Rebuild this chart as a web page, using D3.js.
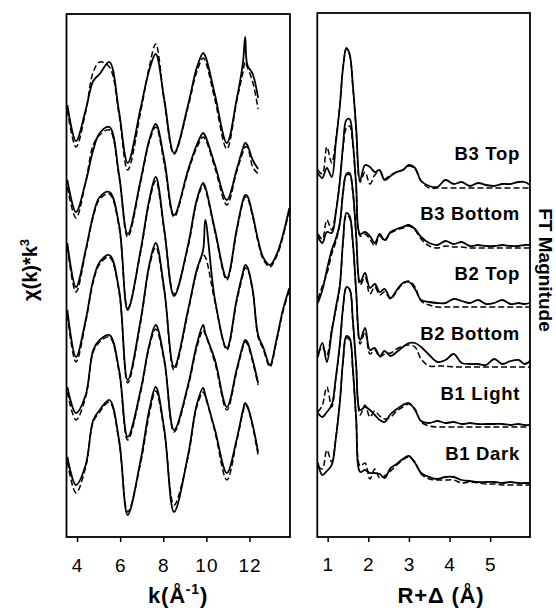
<!DOCTYPE html>
<html><head><meta charset="utf-8">
<script src="https://cdn.jsdelivr.net/npm/d3@7"></script>
<style>body{margin:0;background:#fff}</style>
</head><body>
<svg id="chart" width="556" height="608"></svg>
<script>
// ---------- EXAFS (left panel) ----------
const kGrid = [3.55, 3.95, 4.4, 4.75, 5.05, 5.5, 5.95, 6.35, 6.95, 7.35, 7.65, 8.05, 8.5, 9.15, 9.55, 9.85, 9.95, 10.4, 10.95, 11.4, 11.7, 11.8, 11.9, 12.15, 12.4];
const kGridExt = [12.65, 12.95, 13.25, 13.55, 13.85];
const kTicks = [4, 6, 8, 10, 12];
const sampleNames = ["B3 Top", "B3 Bottom", "B2 Top", "B2 Bottom", "B1 Light", "B1 Dark"];
const exafsOffsets = [68, 54, 40, 27, 13.5, 0];

const chiB3Top      = [0.4, -6.8, -0.6, 5.2, 6.6, 9.0, -1.0, -11.2, -0.2, 7.4, 10.6, 1.4, -9.2, 0.4, 7.8, 10.8, 10.2, 2.4, -7.2, 1.4, 9.0, 14.0, 8.4, 6.6, 1.8];
const chiB3TopFit   = [-0.6, -8.0, -1.0, 7.0, 9.0, 8.0, -1.6, -12.6, -1.0, 8.0, 12.6, 1.0, -9.4, 0.0, 7.0, 9.8, 9.2, 1.4, -8.4, 1.0, 7.0, 9.0, 8.0, 5.0, -0.4];
const chiB3Bot      = [-0.6, -7.0, -1.0, 5.4, 8.8, 10.0, 0.4, -11.4, -0.6, 7.4, 10.6, 3.4, -7.6, 1.4, 6.4, 8.8, 8.2, 2.4, -4.6, 1.4, 5.8, 6.8, 6.4, 3.4, 1.6];
const chiB3BotFit   = [-2.0, -8.2, -1.0, 6.4, 8.4, 9.4, 0.0, -12.0, -1.0, 7.0, 10.0, 2.6, -8.0, 1.0, 5.8, 8.0, 7.6, 1.8, -5.6, 1.0, 5.0, 6.0, 6.0, 2.0, 0.6];
const chiB2Top      = [0.8, -8.0, -0.6, 6.4, 10.0, 11.0, 4.4, -12.6, -0.6, 9.4, 14.0, 3.4, -9.8, 0.4, 9.4, 12.8, 12.0, 3.4, -6.2, 3.4, 9.4, 10.4, 10.2, 6.4, 1.4, -2.2, -3.6, -1.6, 2.4, 7.8];
const chiB2TopFit   = [0.0, -9.0, -1.0, 6.0, 9.6, 10.6, 4.0, -12.2, -1.0, 9.0, 13.2, 3.0, -9.4, 0.0, 9.0, 12.4, 11.6, 3.0, -6.6, 3.0, 9.0, 10.0, 9.8, 6.0, 1.0, -2.6, -4.0, -2.0, 2.0, 7.4];
const chiB2Bot      = [0.4, -9.0, -1.6, 6.4, 10.0, 11.4, 4.4, -13.6, -1.6, 9.4, 13.8, 4.4, -11.0, 0.4, 8.4, 12.4, 18.4, 2.4, -7.2, 2.4, 8.0, 9.4, 9.0, 4.4, -4.6, -7.2, -10.6, -5.6, 0.4, 4.8];
const chiB2BotFit   = [-0.6, -10.0, -2.0, 6.0, 9.6, 11.0, 4.0, -14.2, -2.0, 9.0, 13.0, 4.0, -11.6, 0.0, 8.0, 11.4, 11.0, 2.0, -7.6, 2.0, 7.4, 8.8, 8.6, 4.0, -5.0, -7.6, -11.0, -6.0, 0.0, 4.4];
const chiB1Light    = [-1.5, -6.7, -3.1, 5.9, 7.9, 8.9, 1.9, -11.5, -2.1, 6.9, 10.9, 3.9, -10.1, -1.1, 6.9, 10.9, 9.3, 3.9, -5.5, 1.9, 6.9, 7.9, 7.5, 3.9, -0.7];
const chiB1LightFit = [-2.5, -8.1, -3.5, 5.5, 7.5, 8.5, 1.5, -12.1, -2.5, 6.5, 10.1, 3.5, -10.5, -1.5, 6.3, 9.9, 9.0, 3.3, -6.1, 1.5, 6.5, 7.5, 7.1, 3.5, -1.1];
const chiB1Dark     = [-2.0, -7.6, -3.6, 5.4, 7.4, 9.4, 1.4, -13.6, -2.6, 7.4, 12.0, 3.4, -13.0, -1.6, 8.4, 11.8, 10.4, 3.4, -5.2, 1.4, 7.4, 8.8, 8.2, 4.4, -1.0];
const chiB1DarkFit  = [-3.0, -9.2, -4.0, 5.0, 7.0, 9.0, 1.0, -13.0, -3.2, 6.6, 11.2, 3.0, -11.6, -2.0, 8.0, 11.0, 10.0, 3.0, -6.6, 1.0, 7.0, 8.4, 8.0, 4.0, -1.6];

// ---------- Fourier transform (right panel) ----------
const rGrid = [0.76, 0.87, 0.98, 1.1, 1.2, 1.3, 1.38, 1.46, 1.54, 1.62, 1.7, 1.8, 1.92, 2.04, 2.16, 2.28, 2.4, 2.55, 2.7, 2.85, 3.0, 3.15, 3.3, 3.5, 3.7, 3.9, 4.1, 4.3, 4.5, 4.7, 4.9, 5.1, 5.3, 5.5, 5.7, 5.85, 5.98];
const rTicks = [1, 2, 3, 4, 5];
const ftOffsets = [60, 48, 36, 24, 12, 0];

const ftB3Top      = [2.8, 1.8, 3.8, 2.0, 8.8, 16.2, 24.0, 27.8, 26.6, 20.4, 12.0, 1.4, 4.4, 4.0, 3.0, 3.4, 1.4, 2.2, 3.0, 3.4, 4.4, 3.8, 1.2, 0.2, 0.0, 1.4, 0.6, 1.0, 0.2, 0.8, 0.4, 0.2, 0.6, 0.6, 1.0, 1.0, 0.4];
const ftB3TopFit   = [3.4, 2.6, 8.0, 4.8, 9.4, 16.4, 24.0, 27.6, 26.4, 20.0, 11.6, 1.0, 3.0, 0.6, 2.4, 3.2, 1.6, 2.4, 3.0, 3.4, 4.2, 3.6, 1.2, -0.2, -0.2, -0.2, -0.2, -0.2, -0.2, -0.2, -0.2, -0.2, -0.2, -0.2, -0.2, -0.2, -0.2];
const ftB3Bot      = [2.1, 0.8, 3.0, 2.8, 6.8, 13.2, 20.4, 25.4, 25.6, 21.0, 12.6, 2.6, 3.0, 2.2, 0.8, 2.6, 1.4, 3.0, 3.6, 4.0, 4.4, 3.6, 2.0, 0.8, 0.4, 1.2, 0.6, 1.0, 0.2, 0.4, 0.2, 0.2, 0.4, 0.2, 0.2, 0.4, 0.4];
const ftB3BotFit   = [2.6, 1.6, 5.4, 3.4, 7.0, 13.0, 20.0, 23.8, 24.2, 20.4, 12.0, 2.2, 2.6, 1.6, 0.2, 2.2, 1.2, 2.8, 3.4, 3.8, 4.2, 3.4, 1.6, 0.2, -0.2, 0.2, 0.0, 0.0, -0.2, -0.2, -0.2, -0.2, -0.2, -0.2, -0.2, -0.2, -0.2];
const ftB2Top      = [0.8, 3.4, 7.4, 11.4, 13.6, 16.8, 23.0, 26.6, 26.8, 23.2, 14.6, 5.0, 6.8, 3.8, 4.6, 3.0, 3.6, 1.8, 3.4, 4.8, 5.0, 3.6, 1.4, 1.0, 0.8, 0.8, 1.6, 1.2, 0.8, 1.4, 0.6, 0.8, 1.4, 0.6, 0.8, 0.6, 0.8];
const ftB2TopFit   = [1.6, 4.2, 6.6, 10.6, 13.0, 16.6, 22.8, 26.4, 26.4, 22.8, 14.2, 4.4, 6.0, 2.6, 4.0, 2.4, 3.0, 1.6, 3.2, 4.6, 5.2, 4.0, 1.2, 0.4, 0.0, 0.0, 0.0, 0.0, 0.0, 0.0, 0.0, 0.0, 0.0, 0.0, 0.0, 0.0, 0.0];
const ftB2Bot      = [2.0, 4.8, 1.0, 7.0, 11.8, 16.4, 25.4, 30.8, 30.2, 25.0, 15.4, 5.4, 7.8, 3.4, 3.8, 2.2, 3.2, 2.2, 3.0, 4.0, 4.8, 4.8, 4.0, 2.4, 1.0, 1.4, 2.6, 0.8, 0.6, 0.6, 0.4, 1.6, 0.6, 1.2, 1.4, 0.6, 1.2];
const ftB2BotFit   = [2.6, 4.0, 2.4, 7.6, 11.4, 16.0, 25.0, 30.4, 29.8, 24.6, 15.0, 4.6, 7.0, 2.6, 3.4, 2.0, 2.6, 2.8, 3.6, 4.2, 4.4, 4.0, 1.6, 0.2, 0.2, 0.2, 0.0, 0.0, 0.0, 0.0, 0.0, 0.0, 0.0, 0.0, 0.0, 0.0, 0.0];
const ftB1Light    = [2.8, 2.0, 3.0, 4.4, 9.8, 16.6, 24.0, 28.0, 27.6, 21.4, 12.6, 3.4, 4.0, 3.4, 2.4, 1.4, 1.0, 2.6, 3.6, 4.4, 4.8, 3.4, 1.2, 0.8, 1.2, 0.8, 1.0, 0.6, 0.8, 0.6, 0.6, 0.6, 0.6, 0.4, 0.6, 0.4, 0.4];
const ftB1LightFit = [3.0, 4.4, 8.0, 4.0, 9.6, 16.4, 23.8, 27.8, 27.4, 21.0, 12.2, 2.4, 4.4, 2.0, 3.2, 2.2, 1.6, 2.0, 3.2, 4.0, 4.6, 3.6, 1.0, 0.2, 0.0, 0.0, 0.0, 0.0, 0.0, 0.0, 0.0, 0.0, 0.0, 0.0, 0.0, 0.0, 0.0];
const ftB1Dark     = [4.8, 2.4, 3.2, 4.4, 9.6, 17.0, 25.4, 30.2, 29.8, 23.6, 14.0, 3.0, 3.4, 2.8, 2.8, 2.6, 1.8, 3.8, 4.6, 5.6, 6.2, 4.8, 2.8, 2.0, 1.6, 2.0, 2.0, 1.4, 1.2, 1.0, 1.0, 1.0, 0.8, 1.0, 0.8, 0.8, 0.8];
const ftB1DarkFit  = [4.2, 3.6, 7.4, 5.0, 9.8, 17.0, 25.2, 29.8, 29.4, 23.2, 13.6, 4.2, 4.8, 1.6, 3.6, 1.8, 2.2, 3.2, 4.4, 5.4, 6.0, 5.0, 2.6, 1.6, 1.4, 1.4, 1.4, 0.8, 1.0, 0.8, 0.6, 0.6, 0.4, 0.4, 0.4, 0.4, 0.4];

// ---------- assemble ----------
const kLong = kGrid.concat(kGridExt);
const exafsSeries = [
  {k: kGrid, data: chiB3Top, fit: chiB3TopFit},
  {k: kGrid, data: chiB3Bot, fit: chiB3BotFit},
  {k: kLong, data: chiB2Top, fit: chiB2TopFit},
  {k: kLong, data: chiB2Bot, fit: chiB2BotFit},
  {k: kGrid, data: chiB1Light, fit: chiB1LightFit},
  {k: kGrid, data: chiB1Dark, fit: chiB1DarkFit}
];
const ftSeries = [
  {data: ftB3Top, fit: ftB3TopFit},
  {data: ftB3Bot, fit: ftB3BotFit},
  {data: ftB2Top, fit: ftB2TopFit},
  {data: ftB2Bot, fit: ftB2BotFit},
  {data: ftB1Light, fit: ftB1LightFit},
  {data: ftB1Dark, fit: ftB1DarkFit}
];

const svg = d3.select("#chart");
const FONT = "'Liberation Sans', Arial, Helvetica, sans-serif";
const plotTop = 14, plotBottom = 537;

const xK = d3.scaleLinear().domain([3.51, 13.88]).range([66.5, 290]);
const yK = d3.scaleLinear().domain([-18, 86.6]).range([plotBottom, plotTop]);
const xR = d3.scaleLinear().domain([0.745, 5.98]).range([317.3, 530]);
const yR = d3.scaleLinear().domain([-10, 94.6]).range([plotBottom, plotTop]);

const curve = d3.curveCatmullRom.alpha(0.5);

function drawLine(g, xs, ys, x, y, dashed) {
  const pts = xs.map((v, i) => [v, ys[i]]);
  g.append("path")
    .attr("d", d3.line().x(d => x(d[0])).y(d => y(d[1])).curve(curve)(pts))
    .attr("fill", "none")
    .attr("stroke", "#000")
    .attr("stroke-width", dashed ? 1.5 : 1.8)
    .attr("stroke-dasharray", dashed ? "6,3" : null)
    .attr("stroke-linejoin", "round");
}

// left panel
const gL = svg.append("g");
exafsSeries.forEach((s, i) => {
  const off = exafsOffsets[i];
  drawLine(gL, s.k, s.fit.map(v => v + off), xK, yK, true);
  drawLine(gL, s.k, s.data.map(v => v + off), xK, yK, false);
});
gL.append("rect").attr("x", xK.range()[0]).attr("y", plotTop)
  .attr("width", xK.range()[1] - xK.range()[0]).attr("height", plotBottom - plotTop)
  .attr("fill", "none").attr("stroke", "#000").attr("stroke-width", 1.8);

// right panel
const gR = svg.append("g");
ftSeries.forEach((s, i) => {
  const off = ftOffsets[i];
  drawLine(gR, rGrid, s.fit.map(v => v + off), xR, yR, true);
  drawLine(gR, rGrid, s.data.map(v => v + off), xR, yR, false);
});
gR.append("rect").attr("x", xR.range()[0]).attr("y", plotTop - 1)
  .attr("width", xR.range()[1] - xR.range()[0]).attr("height", plotBottom - plotTop + 1)
  .attr("fill", "none").attr("stroke", "#000").attr("stroke-width", 1.8);

// sample labels
sampleNames.forEach((name, i) => {
  gR.append("text")
    .attr("x", 520).attr("y", yR(ftOffsets[i] + 6.8))
    .attr("text-anchor", "end").attr("dominant-baseline", "central")
    .attr("font-family", FONT).attr("font-weight", "bold").attr("font-size", 18.5)
    .attr("letter-spacing", 0.7)
    .text(name);
});

// axes
function styleAxis(g) {
  g.select(".domain").remove();
  g.selectAll(".tick line").attr("stroke", "#000").attr("stroke-width", 1.5);
  g.selectAll(".tick text").attr("font-family", FONT).attr("font-size", 19)
    .attr("letter-spacing", 1).attr("fill", "#000");
}
svg.append("g").attr("transform", `translate(0,${plotBottom})`)
  .call(d3.axisBottom(xK).tickValues(kTicks).tickSize(5).tickPadding(17).tickFormat(d3.format("d")))
  .call(styleAxis);
svg.append("g").attr("transform", `translate(0,${plotBottom})`)
  .call(d3.axisBottom(xR).tickValues(rTicks).tickSize(5).tickPadding(16).tickFormat(d3.format("d")))
  .call(styleAxis);

// axis titles
const kt = svg.append("text").attr("x", 178).attr("y", 603).attr("text-anchor", "middle")
  .attr("font-family", FONT).attr("font-weight", "bold").attr("font-size", 22)
  .attr("letter-spacing", 0.8);
kt.append("tspan").text("k(Å");
kt.append("tspan").attr("font-size", 14).attr("dy", -9).text("-1");
kt.append("tspan").attr("dy", 9).text(")");

svg.append("text").attr("x", 441).attr("y", 603).attr("text-anchor", "middle")
  .attr("font-family", FONT).attr("font-weight", "bold").attr("font-size", 22)
  .attr("letter-spacing", 0.8)
  .text("R+Δ (Å)");

const yl = svg.append("text").attr("transform", "translate(37,270) rotate(-90)")
  .attr("text-anchor", "middle")
  .attr("font-family", FONT).attr("font-weight", "bold").attr("font-size", 20);
yl.append("tspan").text("χ(k)*k");
yl.append("tspan").attr("font-size", 13).attr("dy", -8).text("3");

svg.append("text").attr("transform", "translate(539,270) rotate(90)")
  .attr("text-anchor", "middle")
  .attr("font-family", FONT).attr("font-weight", "bold").attr("font-size", 19)
  .text("FT Magnitude");
</script>
</body></html>
